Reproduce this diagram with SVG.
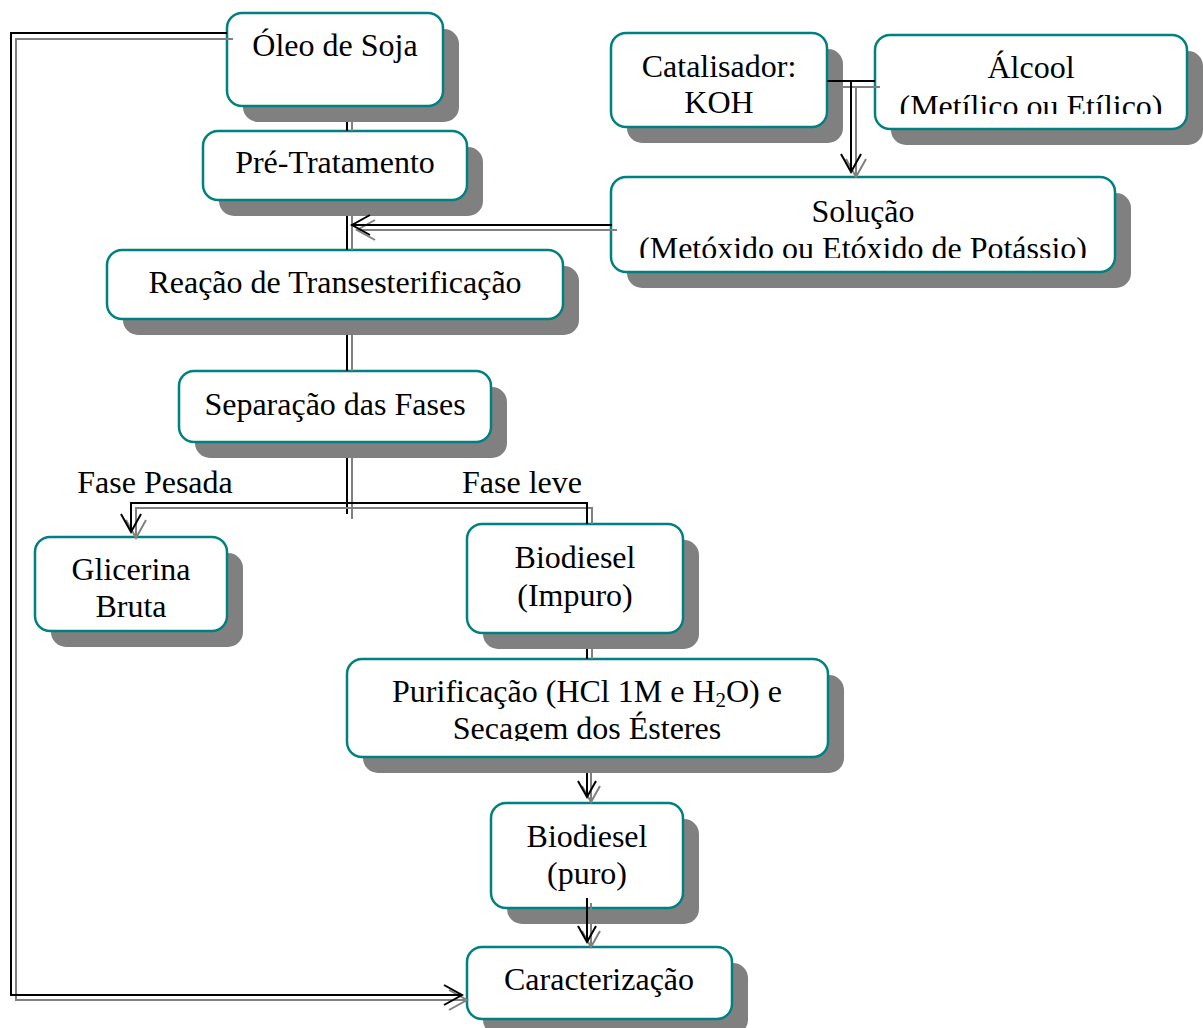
<svg xmlns="http://www.w3.org/2000/svg" width="1203" height="1028" viewBox="0 0 1203 1028">
<style>
.sh{fill:#808080}
.bx{fill:#fff;stroke:#008080;stroke-width:2.5}
.t{font-family:"Liberation Serif","Times New Roman",serif;font-size:32px;fill:#000;text-anchor:middle}
.k{fill:none;stroke:#000;stroke-width:2}
.g{fill:none;stroke:#808080;stroke-width:2}
</style>
<defs>
<clipPath id="cA"><rect x="875" y="35" width="312" height="79"/></clipPath>
<clipPath id="cS"><rect x="611" y="177" width="504" height="81"/></clipPath>
<clipPath id="cP"><rect x="347" y="659" width="481" height="82"/></clipPath>
</defs>
<rect width="1203" height="1028" fill="#fff"/>

<g id="oleo"><rect class="sh" x="243" y="29" width="216" height="93" rx="15"/><rect class="bx" x="227" y="13" width="216" height="93" rx="15"/><text class="t" x="335" y="56">Óleo de Soja</text></g>
<g id="pre"><rect class="sh" x="219" y="147" width="264" height="69" rx="15"/><rect class="bx" x="203" y="131" width="264" height="69" rx="15"/><text class="t" x="335" y="173">Pré-Tratamento</text></g>
<g id="reacao"><rect class="sh" x="123" y="266" width="456" height="69" rx="15"/><rect class="bx" x="107" y="250" width="456" height="69" rx="15"/><text class="t" x="335" y="293">Reação de Transesterificação</text></g>
<g id="separacao"><rect class="sh" x="195" y="387" width="312" height="71" rx="15"/><rect class="bx" x="179" y="371" width="312" height="71" rx="15"/><text class="t" x="335" y="415">Separação das Fases</text></g>
<g id="glicerina"><rect class="sh" x="51" y="553" width="192" height="94" rx="15"/><rect class="bx" x="35" y="537" width="192" height="94" rx="15"/><text class="t" x="131" y="580">Glicerina</text><text class="t" x="131" y="617">Bruta</text></g>
<g id="impuro"><rect class="sh" x="483" y="540" width="216" height="109" rx="15"/><rect class="bx" x="467" y="524" width="216" height="109" rx="15"/><text class="t" x="575" y="568">Biodiesel</text><text class="t" x="575" y="606">(Impuro)</text></g>
<g id="purificacao"><rect class="sh" x="363" y="675" width="481" height="98" rx="15"/><rect class="bx" x="347" y="659" width="481" height="98" rx="15"/><text class="t" x="587" y="702">Purificação (HCl 1M e H<tspan font-size="21" dy="5">2</tspan><tspan dy="-5">O) e</tspan></text><text class="t" x="587" y="739" clip-path="url(#cP)">Secagem dos Ésteres</text></g>
<g id="puro"><rect class="sh" x="507" y="819" width="192" height="105" rx="15"/><rect class="bx" x="491" y="803" width="192" height="105" rx="15"/><text class="t" x="587" y="847">Biodiesel</text><text class="t" x="587" y="884">(puro)</text></g>
<g id="caracterizacao"><rect class="sh" x="483" y="963" width="265" height="72" rx="15"/><rect class="bx" x="467" y="947" width="265" height="72" rx="15"/><text class="t" x="599" y="990">Caracterização</text></g>
<g id="catalisador"><rect class="sh" x="627" y="49" width="216" height="94" rx="15"/><rect class="bx" x="611" y="33" width="216" height="94" rx="15"/><text class="t" x="719" y="77">Catalisador:</text><text class="t" x="719" y="113">KOH</text></g>
<g id="alcool"><rect class="sh" x="891" y="51" width="312" height="94" rx="15"/><rect class="bx" x="875" y="35" width="312" height="94" rx="15"/><text class="t" x="1031" y="78">Álcool</text><text class="t" x="1031" y="117" clip-path="url(#cA)">(Metílico ou Etílico)</text></g>
<g id="solucao"><rect class="sh" x="627" y="193" width="504" height="95" rx="15"/><rect class="bx" x="611" y="177" width="504" height="95" rx="15"/><text class="t" x="863" y="222">Solução</text><text class="t" x="863" y="259" clip-path="url(#cS)">(Metóxido ou Etóxido de Potássio)</text></g>

<g id="labels"><text class="t" x="155" y="493">Fase Pesada</text><text class="t" x="522" y="493">Fase leve</text></g>

<g id="connectors">
<path class="g" d="M233,39 H16 V1000 H467 M449,990 L467,1000 L449,1010"/>
<path class="k" d="M227,33 H11 V995 H462 M444,985 L462,995 L444,1005"/>
<path class="g" d="M352,122 V131 M352,216 V250 M352,335 V371 M352,458 V519"/>
<path class="k" d="M347,122 V131 M347,216 V250 M347,335 V371 M347,458 V514"/>
<path class="g" d="M617,230 H357 M375,220 L357,230 L375,240"/>
<path class="k" d="M612,225 H352 M370,215 L352,225 L370,235"/>
<path class="g" d="M136,538 V508 H592 V524 M126,520 L136,538 L146,520"/>
<path class="k" d="M131,532 V503 H587 V524 M121,514 L131,532 L141,514"/>
<path class="g" d="M592,649 V659 M591,773 V802 M582,786 L591,802 L600,786 M591,903 V947 M582,931 L591,947 L600,931"/>
<path class="k" d="M587,649 V659 M587,773 V797 M578,781 L587,797 L596,781 M587,898 V942 M578,926 L587,942 L596,926"/>
<path class="g" d="M843,87 H880 M856,87 V177 M846,159 L856,177 L866,159"/>
<path class="k" d="M827,81 H875 M851,81 V172 M841,154 L851,172 L861,154"/>
</g>
</svg>
